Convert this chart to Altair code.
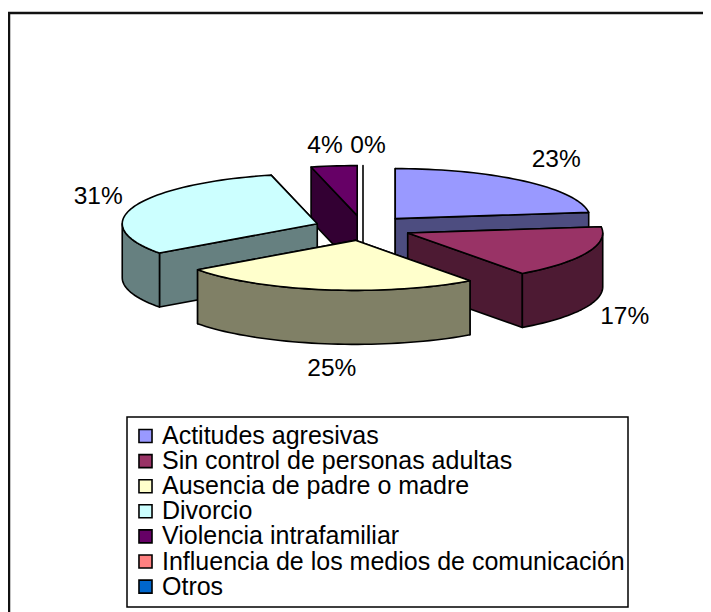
import math
import altair as alt

categories = ["Actitudes agresivas", "Sin control de personas adultas", "Ausencia de padre o madre",
              "Divorcio", "Violencia intrafamiliar", "Influencia de los medios de comunicación", "Otros"]
values = [23, 17, 25, 31.2, 3.8, 0, 0]
top_colors = ["#9999FF", "#993366", "#FFFFCC", "#CCFFFF", "#660066", "#FF8080", "#0066CC"]
side_colors = ["#4D4D80", "#4D1A33", "#808066", "#668080", "#330033", "#804040", "#003366"]
labels = ["23%", "17%", "25%", "31%", "4%", "0%"]

# pie layout (pixels of the page)
CX, CY, A, B, DEPTH, EXPLODE = 363, 228, 195, 50, 54, 0.25
PAGE = 8
label_nudge = [(32, -21), (38, 64), (7, 79), (-36, -9), (-9, -20), (5, -20)]
draw_order = [4, 5, 0, 3, 1, 2]


def feature(points, fill):
    pts = [[x - PAGE, y - PAGE] for x, y in points]
    pts.append(pts[0])
    return {"type": "Feature", "properties": {"fill": fill},
            "geometry": {"type": "Polygon", "coordinates": [pts]}}


def arc(ox, oy, a0, a1, dz=0):
    n = max(2, int(abs(a1 - a0) / 2) + 1)
    out = []
    for i in range(n + 1):
        t = math.radians(a0 + (a1 - a0) * i / n)
        out.append((ox + A * math.sin(t), oy - B * math.cos(t) + dz))
    return out


total = sum(values)
angles = [0]
for v in values:
    angles.append(angles[-1] + 360 * v / total)

features = []
text_rows = []
for i in draw_order:
    a0, a1 = angles[i], angles[i + 1]
    mid = math.radians((a0 + a1) / 2)
    ox = CX + EXPLODE * A * math.sin(mid)
    oy = CY - EXPLODE * B * math.cos(mid)
    top, side = top_colors[i], side_colors[i]
    if a1 - a0 == 0:
        # a zero slice shows only as an upright edge
        r = arc(ox, oy, a0, a0)[0]
        features.append(feature([(ox, r[1]), (ox, oy + DEPTH)], side))
        continue
    # radial walls, back one first
    for ang in sorted([a0, a1], key=lambda q: -math.cos(math.radians(q))):
        e = arc(ox, oy, ang, ang)[0]
        features.append(feature([(ox, oy), e, (e[0], e[1] + DEPTH), (ox, oy + DEPTH)], side))
    # outer wall, the front-facing part
    f0, f1 = max(a0, 90), min(a1, 270)
    if f1 > f0:
        upper = arc(ox, oy, f0, f1)
        lower = arc(ox, oy, f1, f0, DEPTH)
        features.append(feature(upper + lower, side))
    features.append(feature([(ox, oy)] + arc(ox, oy, a0, a1), top))

for i, lab in enumerate(labels):
    mid = math.radians((angles[i] + angles[i + 1]) / 2)
    text_rows.append({
        "x": CX + (1 + EXPLODE) * A * math.sin(mid) + label_nudge[i][0] - PAGE,
        "y": CY - (1 + EXPLODE) * B * math.cos(mid) + label_nudge[i][1] - PAGE,
        "t": lab})

W, H = 695, 604
FONT = "Liberation Sans"
FS = 24.5

pie = alt.Chart(alt.Data(values=features)).mark_geoshape(
    stroke="black", strokeWidth=1.6, strokeJoin="round"
).encode(
    fill=alt.Fill("properties.fill:N", scale=None, legend=None)
).project(type="identity", scale=1, translate=[0, 0])

one = alt.Data(values=[{"a": 0}])
top_rule = alt.Chart(one).mark_rule(color="#111111", strokeWidth=2.5).encode(
    x=alt.value(0), x2=alt.value(W), y=alt.value(5))
left_rule = alt.Chart(one).mark_rule(color="#111111", strokeWidth=2.5).encode(
    x=alt.value(1), y=alt.value(4), y2=alt.value(H))
legend_box = alt.Chart(one).mark_rect(fill="white", stroke="black", strokeWidth=1.5).encode(
    x=alt.value(127 - PAGE), x2=alt.value(628 - PAGE), y=alt.value(417 - PAGE), y2=alt.value(607 - PAGE))

txt = alt.Chart(alt.Data(values=text_rows)).mark_text(
    font=FONT, fontSize=FS, color="black", align="center", baseline="middle"
).encode(
    x=alt.X("x:Q", scale=None, axis=None),
    y=alt.Y("y:Q", scale=None, axis=None),
    text="t:N",
)

legend_rows = [{"c": c} for c in categories]
leg = alt.Chart(alt.Data(values=legend_rows)).mark_point(
    opacity=0, size=0, filled=True
).encode(
    x=alt.value(0), y=alt.value(0),
    color=alt.Color(
        "c:N",
        scale=alt.Scale(domain=categories, range=top_colors),
        legend=alt.Legend(
            title=None, orient="none", legendX=133 - PAGE, legendY=424 - PAGE,
            symbolType="square", symbolSize=170, symbolStrokeColor="black", symbolStrokeWidth=1.6,
            symbolOpacity=1, labelFont=FONT, labelFontSize=25, labelColor="black", labelLimit=600,
            rowPadding=0.1, clipHeight=24, padding=0, labelOffset=4,
        ),
    ),
)

chart = alt.layer(top_rule, left_rule, legend_box, pie, txt, leg).resolve_scale(color="independent").properties(
    width=W, height=H, padding=0, autosize=alt.AutoSizeParams(type="none"), background="white"
).configure_view(stroke=None)

chart.save("out.html", embed_options={"renderer": "svg", "actions": False})
